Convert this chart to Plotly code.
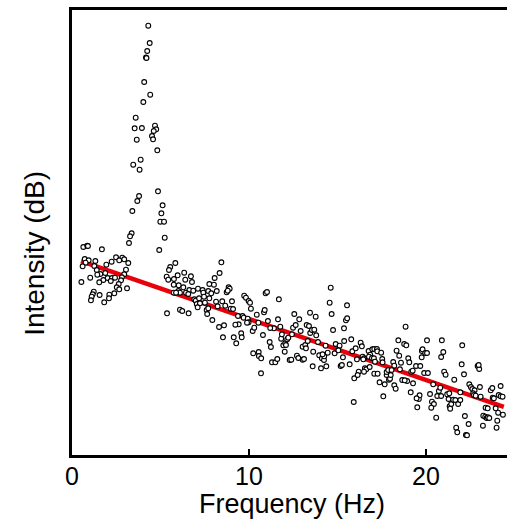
import plotly.graph_objects as go

# ---- data (frequency in Hz, intensity in dB, arbitrary offset) ----
freq_peak = [4.31, 4.39, 4.25, 4.18, 4.21, 4.08, 4.42, 4.03, 3.60, 3.54,
             3.95, 4.69, 4.76, 4.62, 4.52, 4.58, 3.66, 4.82, 3.88, 3.46,
             3.82, 4.86, 3.79, 3.69, 5.12, 5.05, 3.41, 4.99, 5.20, 3.37,
             3.28, 5.24, 3.22, 4.93]
db_peak = [85.86, 82.4, 80.8, 79.5, 79.4, 74.6, 72.06, 70.6, 67.46, 65.34,
           65.4, 65.86, 65.14, 64.8, 63.8, 63.14, 63.06, 60.94, 59.06, 58.06,
           57.06, 52.74, 51.8, 50.8, 49.94, 48.34, 48.8, 46.66, 46.66, 44.34,
           43.74, 43.46, 42.4, 41.0]

freq_low = [0.64, 0.86, 0.90, 1.69, 0.72, 0.94, 0.77, 0.60, 1.32, 1.26,
            1.40, 1.60, 1.43, 1.94, 2.24, 2.49, 2.84, 2.95, 3.18, 2.67,
            3.05, 2.95, 1.88, 1.77, 1.54, 1.03, 0.53, 2.02, 2.26, 2.43,
            2.19, 2.82, 2.77, 2.64, 2.53, 2.67, 3.11, 1.23, 1.17, 1.11,
            1.07, 1.56, 2.11, 2.09, 2.39, 1.82]
db_low = [41.6, 41.86, 41.8, 41.14, 39.2, 38.94, 38.46, 37.74, 38.8, 37.8,
          37.0, 36.2, 36.06, 38.06, 38.66, 39.54, 39.46, 39.14, 38.4, 38.94,
          37.06, 36.14, 36.4, 35.0, 34.54, 35.46, 34.6, 35.4, 35.4, 35.46,
          34.8, 35.54, 34.94, 34.2, 33.54, 33.14, 33.34, 32.66, 32.14, 31.66,
          30.94, 32.0, 32.06, 31.34, 32.34, 30.54]

freq_mid1 = [5.84, 5.55, 5.48, 6.34, 5.35, 5.44, 5.76, 5.97, 6.72, 6.40,
             6.78, 5.75, 6.03, 6.29, 6.63, 5.75, 6.01, 6.10, 5.88, 6.44,
             6.57, 6.85, 7.12, 7.38, 7.42, 7.76, 7.70, 6.91, 6.99, 7.18,
             7.46, 7.05, 7.23, 7.51, 7.76, 7.10, 7.61, 7.64, 7.70, 5.37,
             6.10, 6.23, 6.59]
db_mid1 = [38.4, 37.6, 37.0, 36.46, 35.66, 35.06, 35.2, 35.94, 35.74, 35.06,
           34.6, 34.06, 33.94, 33.54, 33.0, 32.46, 32.8, 32.46, 32.46, 32.46,
           32.2, 32.86, 33.26, 33.0, 32.46, 34.2, 32.8, 31.14, 30.86, 31.34,
           31.66, 30.2, 30.34, 30.46, 31.34, 29.54, 29.0, 28.2, 29.34, 28.34,
           29.06, 28.8, 28.34]

freq_mid2 = [8.44, 8.34, 8.06,
             8.02, 8.18, 7.87, 8.74, 8.85, 8.91, 8.80,
             8.14, 8.49, 8.66, 8.23, 9.04, 8.97, 9.10,
             7.93, 8.31, 8.59, 8.53, 9.14, 9.28, 9.56, 9.42, 9.23, 9.38, 9.64, 9.70, 9.93, 9.98, 9.89, 9.59,
             10.21, 10.30, 9.73, 9.83, 9.98, 10.06, 10.11, 10.44, 10.85, 10.89, 10.94, 11.02, 11.69,
             10.53, 10.79, 11.07, 10.24, 10.55, 10.56, 10.69, 10.68, 11.17, 11.24, 11.41, 11.30, 11.49, 11.60,
             11.64, 11.77, 11.82, 11.86, 11.94, 12.05, 12.02, 12.16, 12.22, 12.09, 12.30, 12.39, 12.43, 12.49,
             12.56, 12.64, 12.71, 12.79, 12.84, 12.92,
             13.03, 13.11, 13.03, 13.18, 13.26, 13.39, 13.46, 13.45, 13.77, 13.32, 13.22, 13.56, 13.69, 13.80,
             13.90, 13.60, 13.63,
             14.07, 14.37, 13.97, 14.12, 14.24, 14.25, 14.16, 14.33, 14.45, 14.62, 14.56, 14.67, 14.75, 14.84, 14.90,
             15.12, 15.05, 15.18, 15.25, 15.31, 15.38, 15.37, 15.48, 15.55, 15.54, 15.69]
db_mid2 = [38.54, 36.4, 35.4,
           34.06, 32.8, 32.34, 32.54, 33.54, 33.26, 32.86,
           30.66, 30.74, 29.86, 29.74, 30.74, 29.26, 29.2,
           27.0, 25.6, 25.94, 23.54, 23.54, 22.34, 24.34, 26.14, 26.06, 27.8, 27.8, 27.46, 27.26, 26.54, 26.46, 23.54,
           24.8, 25.46, 31.86, 31.46, 30.8, 30.46, 29.26, 28.06, 28.54, 29.0, 32.34, 32.6, 31.14,
           26.46, 24.0, 26.8, 20.34, 20.6, 19.8, 19.34, 16.34, 22.6, 21.6, 25.34, 18.54, 18.54, 19.2,
           27.14, 25.66, 23.26, 24.14, 21.94, 22.34, 20.66, 23.14, 23.46, 22.0, 19.0, 19.06, 24.14, 25.46,
           28.2, 26.0, 19.86, 19.4, 27.14, 24.8,
           19.06, 19.2, 21.66, 22.0, 26.0, 25.8, 24.4, 28.46, 27.66, 22.8, 21.34, 25.0, 25.06, 23.94,
           22.6, 17.74, 20.66,
           17.34, 17.74, 19.94, 19.34, 19.0, 19.74, 20.14, 21.86, 20.46, 33.46, 30.46, 28.2, 25.0, 20.34, 22.2,
           21.86, 20.94, 17.8, 18.0, 19.54, 22.8, 25.34, 26.94, 27.34, 29.94, 18.14]

freq_high1 = [15.78, 15.84, 16.03, 15.95, 16.10, 16.20, 16.14, 16.31, 16.38, 16.42,
              16.51, 16.46, 16.55, 16.63, 16.50, 16.76, 16.85, 16.78, 16.82, 16.97,
              17.08, 17.23, 17.25, 16.95, 17.06, 17.12, 17.08, 17.27, 17.38, 17.47,
              17.53, 17.55, 15.92, 17.59, 17.67, 17.78, 17.91, 17.97, 17.78, 17.87,
              18.01, 18.15, 18.21, 18.06, 18.21, 18.29, 18.44, 18.34, 18.49, 18.53]
db_high1 = [23.14, 20.74, 21.34, 15.34, 19.14, 16.66, 16.0, 22.46, 21.74, 19.66,
            19.34, 19.14, 17.34, 17.14, 16.66, 20.8, 20.06, 19.66, 17.6, 21.14,
            21.2, 21.2, 20.74, 19.4, 19.34, 18.66, 16.26, 16.26, 14.54, 20.46,
            19.2, 18.54, 10.6, 11.74, 14.14, 16.0, 15.06, 15.26, 16.6, 17.0,
            16.0, 18.6, 17.86, 17.0, 13.94, 13.26, 22.94, 20.86, 19.86, 17.14]

freq_high2 = [18.59, 18.66, 18.77, 18.89, 18.85, 19.00, 19.06, 18.94, 19.14, 19.27,
              19.17, 19.25, 19.44, 19.51, 19.60, 19.64, 19.68, 19.76, 19.77, 19.81,
              19.96, 20.06, 19.90, 20.11, 20.06, 20.23, 20.34, 20.45, 20.30, 20.41,
              20.58, 20.64, 20.73, 20.81, 20.86, 20.90, 20.98, 20.86, 21.03, 21.11,
              21.20, 21.32, 21.28, 21.34, 21.43, 21.37, 21.54, 21.66, 21.60, 21.82]
db_high2 = [18.46, 15.0, 22.2, 21.94, 25.66, 19.34, 18.54, 14.8, 12.54, 14.34,
            16.66, 16.86, 17.8, 9.54, 11.2, 11.94, 17.8, 19.54, 20.8, 21.14,
            20.4, 20.4, 16.4, 16.4, 22.94, 12.2, 10.66, 10.2, 9.46, 14.14,
            7.46, 11.8, 12.8, 13.46, 11.8, 22.94, 20.6, 19.6, 16.66, 16.06,
            12.14, 12.34, 11.2, 9.74, 10.2, 9.26, 11.06, 11.0, 15.06, 10.2]

freq_high3 = [21.94, 21.94, 21.71, 21.77, 22.02, 22.15, 22.05, 22.20, 22.26, 22.32,
              22.41, 22.45, 22.54, 22.62, 22.75, 22.67, 22.71, 22.81, 22.92, 23.01,
              22.98, 23.05, 23.09, 23.24, 23.35, 23.43, 23.50, 23.22, 23.37, 23.49,
              23.58, 23.66, 23.75, 23.77, 23.84, 23.94, 24.03, 24.08, 23.99, 24.22,
              24.11, 24.22, 24.33, 24.35, 18.80, 19.47, 11.20]
db_high3 = [11.0, 12.54, 5.46, 4.54, 18.14, 16.14, 21.94, 7.8, 4.0, 3.94,
            6.2, 14.14, 13.6, 13.2, 12.94, 12.34, 12.0, 11.86, 17.8, 17.2,
            18.0, 13.6, 11.66, 7.86, 7.66, 7.4, 7.54, 5.86, 9.46, 9.34,
            7.4, 12.94, 13.4, 11.46, 11.34, 9.34, 6.86, 8.46, 5.46, 13.8,
            12.0, 11.74, 11.66, 8.06, 14.94, 11.34, 25.4]

# linear trend: intensity = intercept + slope * f
fit_intercept = 39.42
fit_slope = -1.222
fit_f_range = [0.51, 24.4]

x_tick_vals = [0, 10, 20]
x_range = [0, 24.58]
y_range = [0, 89]
x_title = "Frequency (Hz)"
y_title = "Intensity (dB)"

freq_all = freq_peak + freq_low + freq_mid1 + freq_mid2 + freq_high1 + freq_high2 + freq_high3
db_all = db_peak + db_low + db_mid1 + db_mid2 + db_high1 + db_high2 + db_high3
assert len(freq_all) == len(db_all), (len(freq_all), len(db_all))

fit_y = [fit_intercept + fit_slope * f for f in fit_f_range]

FONT = "Arial, 'Liberation Sans', Helvetica, sans-serif"

fig = go.Figure()
fig.add_trace(go.Scatter(
    x=fit_f_range, y=fit_y, mode="lines",
    line=dict(color="#e8000b", width=4.5), hoverinfo="skip", showlegend=False))
fig.add_trace(go.Scatter(
    x=freq_all, y=db_all, mode="markers",
    marker=dict(symbol="circle", size=4.8, color="white",
                line=dict(color="black", width=1.1)),
    showlegend=False))

fig.update_layout(
    width=507, height=520,
    margin=dict(l=72, r=0, t=10, b=65),
    paper_bgcolor="white", plot_bgcolor="white",
    font=dict(family=FONT, color="black", size=25),
    showlegend=False,
)
fig.update_xaxes(
    range=x_range, tickvals=x_tick_vals, ticktext=[str(v) for v in x_tick_vals],
    showline=True, linecolor="black", linewidth=2.5, mirror=True,
    ticks="inside", ticklen=6, tickwidth=2, tickcolor="black",
    showgrid=False, zeroline=False,
    tickfont=dict(size=25, family=FONT),
    ticklabelstandoff=-3,
)
fig.update_yaxes(
    range=y_range, showticklabels=False, ticks="",
    showline=True, linecolor="black", linewidth=2.5, mirror=False,
    showgrid=False, zeroline=False,
)

# axis titles placed as annotations for precise positioning
fig.add_annotation(
    text=x_title, xref="paper", yref="paper", x=0.505, y=0,
    xanchor="center", yanchor="middle", yshift=-49, showarrow=False,
    font=dict(size=27, family=FONT, color="black"))
fig.add_annotation(
    text=y_title, textangle=-90, xref="paper", yref="paper", x=0, y=0.452,
    xanchor="center", yanchor="middle", xshift=-37, showarrow=False,
    font=dict(size=28, family=FONT, color="black"))

fig.write_html(
    "out.html",
    config={"displayModeBar": False},
    post_script="document.body.style.margin='0';document.body.style.overflow='hidden';",
)
